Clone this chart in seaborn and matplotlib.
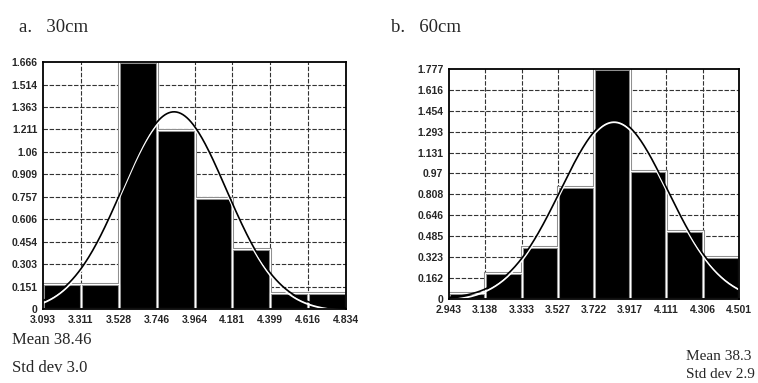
import numpy as np
import pandas as pd
import seaborn as sns
import matplotlib.pyplot as plt
import matplotlib.transforms as mtransforms

# панель a: 30cm
edges_a = [3.093, 3.311, 3.528, 3.746, 3.964, 4.181, 4.399, 4.616, 4.834]
dens_a = [0.167, 0.167, 1.666, 1.206, 0.749, 0.403, 0.11, 0.105]
yticks_a = [0, 0.151, 0.303, 0.454, 0.606, 0.757, 0.909, 1.06, 1.211, 1.363, 1.514, 1.666]
mean_a, sd_a = 3.846, 0.30

# панель b: 60cm
edges_b = [2.943, 3.138, 3.333, 3.527, 3.722, 3.917, 4.111, 4.306, 4.501]
dens_b = [0.05, 0.2, 0.40, 0.866, 1.777, 0.99, 0.528, 0.322]
yticks_b = [0, 0.162, 0.323, 0.485, 0.646, 0.808, 0.97, 1.131, 1.293, 1.454, 1.616, 1.777]
mean_b, sd_b = 3.83, 0.288

sns.set_style('white')
plt.rcParams['font.family'] = ['Liberation Sans', 'DejaVu Sans']

fig = plt.figure(figsize=(7.58, 3.83), dpi=100)
ax_a = fig.add_axes([0.0567, 0.1932, 0.3998, 0.645])
ax_b = fig.add_axes([0.5923, 0.2193, 0.3826, 0.6005])


def panel(ax, edges, dens, yticks, mu, sd):
    e = np.array(edges)
    centers = (e[:-1] + e[1:]) / 2
    df = pd.DataFrame({'x': centers, 'w': dens})
    # сітка
    for t in edges[1:-1]:
        ax.axvline(t, color='#333333', lw=0.8, ls=(0, (4, 1.5)), zorder=0)
    for t in yticks[1:-1]:
        ax.axhline(t, color='#333333', lw=0.8, ls=(0, (4, 1.5)), zorder=0)
    sns.histplot(data=df, x='x', weights='w', bins=list(edges), ax=ax,
                 color='black', alpha=1, edgecolor='#8a8a8a', linewidth=2.2, zorder=2)
    sns.histplot(data=df, x='x', weights='w', bins=list(edges), ax=ax, fill=False,
                 color='white', linewidth=0.8, zorder=3)
    # нормальна крива
    xs = np.linspace(edges[0], edges[-1], 300)
    ys = np.exp(-0.5 * ((xs - mu) / sd) ** 2) / (sd * np.sqrt(2 * np.pi))
    sns.lineplot(x=xs, y=ys, ax=ax, color='white', linewidth=1.3, zorder=4)
    ax.lines[-1].set_transform(mtransforms.offset_copy(ax.transData, fig=fig, y=-1.8, units='points'))
    sns.lineplot(x=xs, y=ys, ax=ax, color='black', linewidth=1.2, zorder=4.5)
    ax.set_xlim(edges[0], edges[-1])
    ax.set_ylim(0, yticks[-1])
    ax.set_xticks(edges)
    ax.set_xticklabels([f'{v:g}' for v in edges])
    ax.set_yticks(yticks)
    ax.set_yticklabels([f'{v:g}' for v in yticks])
    ax.tick_params(length=0, labelsize=7.5)
    ax.tick_params(axis='x', pad=4)
    ax.tick_params(axis='y', pad=4)
    for lab in ax.get_xticklabels() + ax.get_yticklabels():
        lab.set_fontweight('bold')
    ax.set_xlabel('')
    ax.set_ylabel('')
    for s in ax.spines.values():
        s.set_color('black')
        s.set_linewidth(1.3)
        s.set_zorder(5)


panel(ax_a, edges_a, dens_a, yticks_a, mean_a, sd_a)
panel(ax_b, edges_b, dens_b, yticks_b, mean_b, sd_b)

serif = ['Liberation Serif', 'DejaVu Serif']
fig.text(19 / 758, 1 - 27 / 383, 'a.   30cm', family=serif, fontsize=13.5, va='center')
fig.text(391 / 758, 1 - 27 / 383, 'b.   60cm', family=serif, fontsize=13.5, va='center')
fig.text(12 / 758, 1 - 340 / 383, 'Mean 38.46', family=serif, fontsize=12, va='center')
fig.text(12 / 758, 1 - 368 / 383, 'Std dev 3.0', family=serif, fontsize=12, va='center')
fig.text(686 / 758, 1 - 356 / 383, 'Mean 38.3', family=serif, fontsize=11, va='center')
fig.text(686 / 758, 1 - 374 / 383, 'Std dev 2.9', family=serif, fontsize=11, va='center')

plt.savefig('out.png', dpi=100)
